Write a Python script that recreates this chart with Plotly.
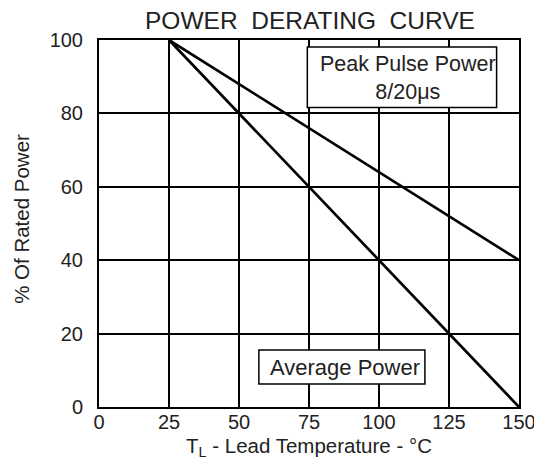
import plotly.graph_objects as go

temps = [25, 150]
peak_pulse = [100, 40]
average = [100, 0]
x_ticks = [0, 25, 50, 75, 100, 125, 150]
y_ticks = [0, 20, 40, 60, 80, 100]

font = "Liberation Sans, Arial, sans-serif"
txt = "#222"

fig = go.Figure()
fig.add_trace(go.Scatter(x=temps, y=peak_pulse, mode="lines",
                         line=dict(color="black", width=2.7), showlegend=False))
fig.add_trace(go.Scatter(x=temps, y=average, mode="lines",
                         line=dict(color="black", width=2.7), showlegend=False))

# label boxes
fig.add_shape(type="rect", x0=74.4, x1=142.0, y0=81.6, y1=98.1,
              line=dict(color="black", width=1.5), fillcolor="white", layer="above")
fig.add_annotation(x=110.2, y=89.6, text="Peak Pulse Power<br>8/20μs", showarrow=False,
                   font=dict(family=font, size=21.5, color=txt))
fig.add_shape(type="rect", x0=57.1, x1=116.4, y0=6.3, y1=15.5,
              line=dict(color="black", width=1.5), fillcolor="white", layer="above")
fig.add_annotation(x=88.0, y=10.9, text="Average Power", showarrow=False,
                   font=dict(family=font, size=22, color=txt))

# axis titles
fig.add_annotation(xref="paper", yref="paper", x=0.5, y=-0.108, yanchor="middle",
                   text="T<sub>L</sub> - Lead Temperature - °C", showarrow=False,
                   font=dict(family=font, size=20.5, color=txt))
fig.add_annotation(xref="paper", yref="paper", x=-0.183, y=0.513, xanchor="center",
                   yanchor="middle",
                   text="% Of Rated Power", textangle=-90, showarrow=False,
                   font=dict(family=font, size=20.5, color=txt))

fig.update_layout(
    width=534, height=455,
    margin=dict(l=91, r=23, t=32, b=56, autoexpand=False),
    paper_bgcolor="white", plot_bgcolor="white",
    title=dict(text="POWER&nbsp; DERATING&nbsp; CURVE", x=0.5655, xanchor="center",
               xref="container", yref="container", y=0.972, yanchor="middle",
               font=dict(family=font, size=24.5, color=txt)),
    font=dict(family=font, color=txt),
)
fig.update_xaxes(range=[0, 150], tickvals=x_ticks, ticktext=[str(v) for v in x_ticks],
                 automargin=False,
                 showgrid=True, gridcolor="black", gridwidth=1.6,
                 showline=True, linecolor="black", linewidth=2, mirror=True,
                 zeroline=False, ticks="", ticklabelstandoff=-4,
                 tickfont=dict(size=20, family=font, color=txt))
fig.update_yaxes(range=[0, 100], tickvals=y_ticks, ticktext=[str(v) for v in y_ticks],
                 automargin=False,
                 showgrid=True, gridcolor="black", gridwidth=1.6,
                 showline=True, linecolor="black", linewidth=2, mirror=True,
                 zeroline=False, ticks="outside", ticklen=10, tickcolor="rgba(0,0,0,0)",
                 tickfont=dict(size=20, family=font, color=txt))

fig.write_html("out.html")
